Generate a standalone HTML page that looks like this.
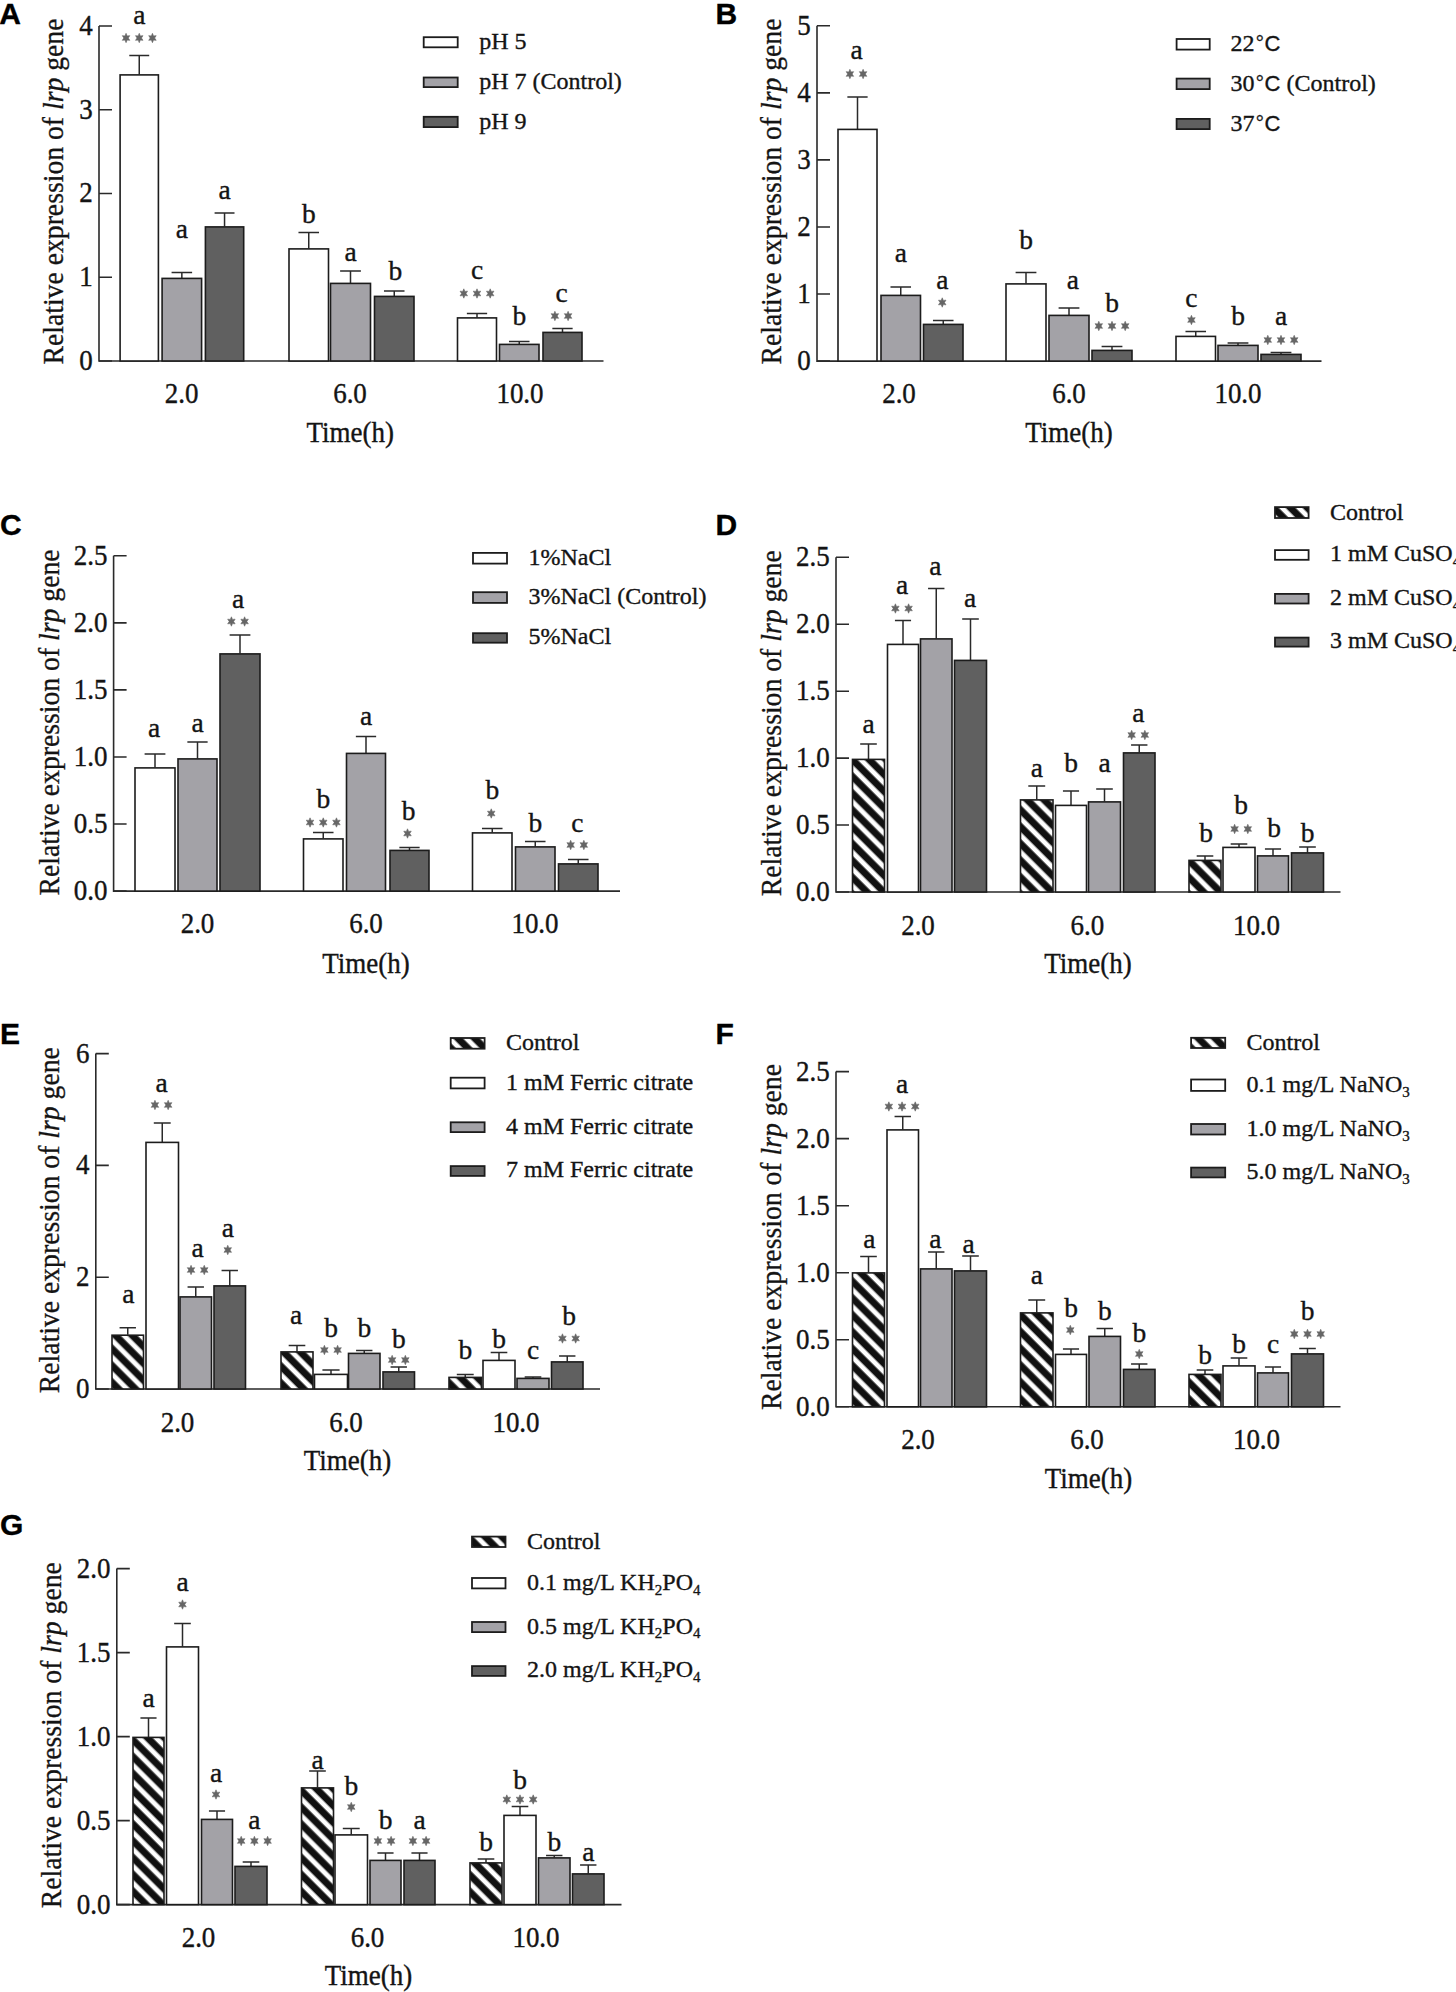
<!DOCTYPE html>
<html><head><meta charset="utf-8"><style>html,body{margin:0;padding:0;background:#fff;width:1456px;height:1992px;overflow:hidden}svg{display:block}</style></head>
<body><svg width="1456" height="1992" viewBox="0 0 1456 1992"><defs><pattern id="hatch" patternUnits="userSpaceOnUse" width="11.9" height="11.9" patternTransform="rotate(45)"><rect width="11.9" height="11.9" fill="#fff"/><rect y="2.3" width="11.9" height="7.0" fill="#111"/></pattern></defs><rect width="1456" height="1992" fill="#fff"/>
<text transform="translate(-0.75,23.90) scale(1,1.0)" font-family="Liberation Sans" font-size="30" font-weight="bold" text-anchor="start" fill="#000" stroke="#000" stroke-width="0.35" >A</text>
<path d="M99,26V361H603.5" stroke="#2a2a2a" stroke-width="1.6" fill="none"/>
<text transform="translate(92.80,369.90) scale(1,1.1)" font-family="Liberation Serif" font-size="27.0" font-weight="normal" text-anchor="end" fill="#141414" stroke="#141414" stroke-width="0.35" >0</text>
<text transform="translate(92.80,286.15) scale(1,1.1)" font-family="Liberation Serif" font-size="27.0" font-weight="normal" text-anchor="end" fill="#141414" stroke="#141414" stroke-width="0.35" >1</text>
<text transform="translate(92.80,202.40) scale(1,1.1)" font-family="Liberation Serif" font-size="27.0" font-weight="normal" text-anchor="end" fill="#141414" stroke="#141414" stroke-width="0.35" >2</text>
<text transform="translate(92.80,118.65) scale(1,1.1)" font-family="Liberation Serif" font-size="27.0" font-weight="normal" text-anchor="end" fill="#141414" stroke="#141414" stroke-width="0.35" >3</text>
<text transform="translate(92.80,34.90) scale(1,1.1)" font-family="Liberation Serif" font-size="27.0" font-weight="normal" text-anchor="end" fill="#141414" stroke="#141414" stroke-width="0.35" >4</text>
<path d="M99,361.00H112M99,277.25H112M99,193.50H112M99,109.75H112M99,26.00H112" stroke="#2a2a2a" stroke-width="1.6" fill="none"/>
<path d="M139.25,74.5V55.5M129.29,55.5H149.21" stroke="#2a2a2a" stroke-width="1.5" fill="none"/>
<rect x="120.10" y="74.90" width="38.30" height="286.10" fill="#ffffff" stroke="#1c1c1c" stroke-width="1.6"/>
<text transform="translate(139.25,24.00) scale(1,1.0)" font-family="Liberation Serif" font-size="27.5" font-weight="normal" text-anchor="middle" fill="#141414" stroke="#141414" stroke-width="0.35" >a</text>
<path d="M126.05,33.30L127.15,35.92L129.79,35.65L128.26,38.00L129.79,40.35L127.15,40.08L126.05,42.70L124.95,40.08L122.31,40.35L123.84,38.00L122.31,35.65L124.95,35.92ZM139.25,33.30L140.35,35.92L142.99,35.65L141.46,38.00L142.99,40.35L140.35,40.08L139.25,42.70L138.15,40.08L135.51,40.35L137.04,38.00L135.51,35.65L138.15,35.92ZM152.45,33.30L153.55,35.92L156.19,35.65L154.66,38.00L156.19,40.35L153.55,40.08L152.45,42.70L151.35,40.08L148.71,40.35L150.24,38.00L148.71,35.65L151.35,35.92Z" fill="#666666" stroke="#666666" stroke-width="0.6" stroke-linejoin="round"/>
<path d="M181.85,278V272.5M171.58,272.5H192.12" stroke="#2a2a2a" stroke-width="1.5" fill="none"/>
<rect x="162.10" y="278.40" width="39.50" height="82.60" fill="#a3a2a7" stroke="#1c1c1c" stroke-width="1.6"/>
<text transform="translate(181.85,238.00) scale(1,1.0)" font-family="Liberation Serif" font-size="27.5" font-weight="normal" text-anchor="middle" fill="#141414" stroke="#141414" stroke-width="0.35" >a</text>
<path d="M224.55,226.5V213M214.59,213H234.51" stroke="#2a2a2a" stroke-width="1.5" fill="none"/>
<rect x="205.40" y="226.90" width="38.30" height="134.10" fill="#606060" stroke="#1c1c1c" stroke-width="1.6"/>
<text transform="translate(224.55,199.00) scale(1,1.0)" font-family="Liberation Serif" font-size="27.5" font-weight="normal" text-anchor="middle" fill="#141414" stroke="#141414" stroke-width="0.35" >a</text>
<path d="M308.75,248.5V232.5M298.48,232.5H319.02" stroke="#2a2a2a" stroke-width="1.5" fill="none"/>
<rect x="289.00" y="248.90" width="39.50" height="112.10" fill="#ffffff" stroke="#1c1c1c" stroke-width="1.6"/>
<text transform="translate(308.75,222.50) scale(1,1.0)" font-family="Liberation Serif" font-size="27.5" font-weight="normal" text-anchor="middle" fill="#141414" stroke="#141414" stroke-width="0.35" >b</text>
<path d="M350.50,283V271M340.10,271H360.90" stroke="#2a2a2a" stroke-width="1.5" fill="none"/>
<rect x="330.50" y="283.40" width="40.00" height="77.60" fill="#a3a2a7" stroke="#1c1c1c" stroke-width="1.6"/>
<text transform="translate(350.50,261.00) scale(1,1.0)" font-family="Liberation Serif" font-size="27.5" font-weight="normal" text-anchor="middle" fill="#141414" stroke="#141414" stroke-width="0.35" >a</text>
<path d="M394.25,296V291M383.98,291H404.52" stroke="#2a2a2a" stroke-width="1.5" fill="none"/>
<rect x="374.50" y="296.40" width="39.50" height="64.60" fill="#606060" stroke="#1c1c1c" stroke-width="1.6"/>
<text transform="translate(395.45,280.00) scale(1,1.0)" font-family="Liberation Serif" font-size="27.5" font-weight="normal" text-anchor="middle" fill="#141414" stroke="#141414" stroke-width="0.35" >b</text>
<path d="M477.00,317.5V313.5M466.86,313.5H487.14" stroke="#2a2a2a" stroke-width="1.5" fill="none"/>
<rect x="457.50" y="317.90" width="39.00" height="43.10" fill="#ffffff" stroke="#1c1c1c" stroke-width="1.6"/>
<text transform="translate(477.00,279.00) scale(1,1.0)" font-family="Liberation Serif" font-size="27.5" font-weight="normal" text-anchor="middle" fill="#141414" stroke="#141414" stroke-width="0.35" >c</text>
<path d="M463.80,288.80L464.90,291.42L467.54,291.15L466.01,293.50L467.54,295.85L464.90,295.58L463.80,298.20L462.70,295.58L460.06,295.85L461.59,293.50L460.06,291.15L462.70,291.42ZM477.00,288.80L478.10,291.42L480.74,291.15L479.21,293.50L480.74,295.85L478.10,295.58L477.00,298.20L475.90,295.58L473.26,295.85L474.79,293.50L473.26,291.15L475.90,291.42ZM490.20,288.80L491.30,291.42L493.94,291.15L492.41,293.50L493.94,295.85L491.30,295.58L490.20,298.20L489.10,295.58L486.46,295.85L487.99,293.50L486.46,291.15L489.10,291.42Z" fill="#666666" stroke="#666666" stroke-width="0.6" stroke-linejoin="round"/>
<path d="M519.25,344V341.5M508.98,341.5H529.52" stroke="#2a2a2a" stroke-width="1.5" fill="none"/>
<rect x="499.50" y="344.40" width="39.50" height="16.60" fill="#a3a2a7" stroke="#1c1c1c" stroke-width="1.6"/>
<text transform="translate(519.25,325.00) scale(1,1.0)" font-family="Liberation Serif" font-size="27.5" font-weight="normal" text-anchor="middle" fill="#141414" stroke="#141414" stroke-width="0.35" >b</text>
<path d="M562.50,332V328.5M552.36,328.5H572.64" stroke="#2a2a2a" stroke-width="1.5" fill="none"/>
<rect x="543.00" y="332.40" width="39.00" height="28.60" fill="#606060" stroke="#1c1c1c" stroke-width="1.6"/>
<text transform="translate(561.50,301.50) scale(1,1.0)" font-family="Liberation Serif" font-size="27.5" font-weight="normal" text-anchor="middle" fill="#141414" stroke="#141414" stroke-width="0.35" >c</text>
<path d="M554.90,311.30L556.00,313.92L558.64,313.65L557.11,316.00L558.64,318.35L556.00,318.08L554.90,320.70L553.80,318.08L551.16,318.35L552.69,316.00L551.16,313.65L553.80,313.92ZM568.10,311.30L569.20,313.92L571.84,313.65L570.31,316.00L571.84,318.35L569.20,318.08L568.10,320.70L567.00,318.08L564.36,318.35L565.89,316.00L564.36,313.65L567.00,313.92Z" fill="#666666" stroke="#666666" stroke-width="0.6" stroke-linejoin="round"/>
<text transform="translate(181.60,402.90) scale(1,1.1)" font-family="Liberation Serif" font-size="27.0" font-weight="normal" text-anchor="middle" fill="#141414" stroke="#141414" stroke-width="0.35" >2.0</text>
<text transform="translate(350.00,402.90) scale(1,1.1)" font-family="Liberation Serif" font-size="27.0" font-weight="normal" text-anchor="middle" fill="#141414" stroke="#141414" stroke-width="0.35" >6.0</text>
<text transform="translate(520.00,402.90) scale(1,1.1)" font-family="Liberation Serif" font-size="27.0" font-weight="normal" text-anchor="middle" fill="#141414" stroke="#141414" stroke-width="0.35" >10.0</text>
<text transform="translate(350.20,441.60) scale(1,1.1)" font-family="Liberation Serif" font-size="27.0" font-weight="normal" text-anchor="middle" fill="#141414" stroke="#141414" stroke-width="0.35" >Time(h)</text>
<text transform="translate(63,191.5) rotate(-90) scale(1,1.06)" font-family="Liberation Serif" font-size="27.7" text-anchor="middle" fill="#141414" stroke="#141414" stroke-width="0.3">Relative expression of <tspan font-style="italic">lrp</tspan> gene</text>
<rect x="423.7" y="37.199999999999996" width="34.000000000000014" height="10.100000000000005" fill="#ffffff" stroke="#1c1c1c" stroke-width="1.8"/>
<text transform="translate(479.20,48.80) scale(1,1.0)" font-family="Liberation Serif" font-size="24.0" font-weight="normal" text-anchor="start" fill="#141414" stroke="#141414" stroke-width="0.35" >pH 5</text>
<rect x="423.7" y="77.5" width="34.000000000000014" height="9.600000000000005" fill="#a3a2a7" stroke="#1c1c1c" stroke-width="1.8"/>
<text transform="translate(479.20,88.60) scale(1,1.0)" font-family="Liberation Serif" font-size="24.0" font-weight="normal" text-anchor="start" fill="#141414" stroke="#141414" stroke-width="0.35" >pH 7 (Control)</text>
<rect x="423.7" y="116.80000000000001" width="34.000000000000014" height="10.299999999999994" fill="#606060" stroke="#1c1c1c" stroke-width="1.8"/>
<text transform="translate(479.20,128.60) scale(1,1.0)" font-family="Liberation Serif" font-size="24.0" font-weight="normal" text-anchor="start" fill="#141414" stroke="#141414" stroke-width="0.35" >pH 9</text>
<text transform="translate(715.50,23.90) scale(1,1.0)" font-family="Liberation Sans" font-size="30" font-weight="bold" text-anchor="start" fill="#000" stroke="#000" stroke-width="0.35" >B</text>
<path d="M817,25.8V361.1H1321.5" stroke="#2a2a2a" stroke-width="1.6" fill="none"/>
<text transform="translate(810.80,370.00) scale(1,1.1)" font-family="Liberation Serif" font-size="27.0" font-weight="normal" text-anchor="end" fill="#141414" stroke="#141414" stroke-width="0.35" >0</text>
<text transform="translate(810.80,302.94) scale(1,1.1)" font-family="Liberation Serif" font-size="27.0" font-weight="normal" text-anchor="end" fill="#141414" stroke="#141414" stroke-width="0.35" >1</text>
<text transform="translate(810.80,235.88) scale(1,1.1)" font-family="Liberation Serif" font-size="27.0" font-weight="normal" text-anchor="end" fill="#141414" stroke="#141414" stroke-width="0.35" >2</text>
<text transform="translate(810.80,168.82) scale(1,1.1)" font-family="Liberation Serif" font-size="27.0" font-weight="normal" text-anchor="end" fill="#141414" stroke="#141414" stroke-width="0.35" >3</text>
<text transform="translate(810.80,101.76) scale(1,1.1)" font-family="Liberation Serif" font-size="27.0" font-weight="normal" text-anchor="end" fill="#141414" stroke="#141414" stroke-width="0.35" >4</text>
<text transform="translate(810.80,34.70) scale(1,1.1)" font-family="Liberation Serif" font-size="27.0" font-weight="normal" text-anchor="end" fill="#141414" stroke="#141414" stroke-width="0.35" >5</text>
<path d="M817,361.10H830M817,294.04H830M817,226.98H830M817,159.92H830M817,92.86H830M817,25.80H830" stroke="#2a2a2a" stroke-width="1.6" fill="none"/>
<path d="M857.50,129V97M847.36,97H867.64" stroke="#2a2a2a" stroke-width="1.5" fill="none"/>
<rect x="838.00" y="129.40" width="39.00" height="231.70" fill="#ffffff" stroke="#1c1c1c" stroke-width="1.6"/>
<text transform="translate(856.50,59.00) scale(1,1.0)" font-family="Liberation Serif" font-size="27.5" font-weight="normal" text-anchor="middle" fill="#141414" stroke="#141414" stroke-width="0.35" >a</text>
<path d="M849.90,69.30L851.00,71.92L853.64,71.65L852.11,74.00L853.64,76.35L851.00,76.08L849.90,78.70L848.80,76.08L846.16,76.35L847.69,74.00L846.16,71.65L848.80,71.92ZM863.10,69.30L864.20,71.92L866.84,71.65L865.31,74.00L866.84,76.35L864.20,76.08L863.10,78.70L862.00,76.08L859.36,76.35L860.89,74.00L859.36,71.65L862.00,71.92Z" fill="#666666" stroke="#666666" stroke-width="0.6" stroke-linejoin="round"/>
<path d="M900.75,295V287M890.48,287H911.02" stroke="#2a2a2a" stroke-width="1.5" fill="none"/>
<rect x="881.00" y="295.40" width="39.50" height="65.70" fill="#a3a2a7" stroke="#1c1c1c" stroke-width="1.6"/>
<text transform="translate(900.75,261.50) scale(1,1.0)" font-family="Liberation Serif" font-size="27.5" font-weight="normal" text-anchor="middle" fill="#141414" stroke="#141414" stroke-width="0.35" >a</text>
<path d="M943.25,324V320.5M932.98,320.5H953.52" stroke="#2a2a2a" stroke-width="1.5" fill="none"/>
<rect x="923.50" y="324.40" width="39.50" height="36.70" fill="#606060" stroke="#1c1c1c" stroke-width="1.6"/>
<text transform="translate(942.25,289.00) scale(1,1.0)" font-family="Liberation Serif" font-size="27.5" font-weight="normal" text-anchor="middle" fill="#141414" stroke="#141414" stroke-width="0.35" >a</text>
<path d="M942.25,297.80L943.35,300.42L945.99,300.15L944.46,302.50L945.99,304.85L943.35,304.58L942.25,307.20L941.15,304.58L938.51,304.85L940.04,302.50L938.51,300.15L941.15,300.42Z" fill="#666666" stroke="#666666" stroke-width="0.6" stroke-linejoin="round"/>
<path d="M1026.00,283.5V272.5M1015.60,272.5H1036.40" stroke="#2a2a2a" stroke-width="1.5" fill="none"/>
<rect x="1006.00" y="283.90" width="40.00" height="77.20" fill="#ffffff" stroke="#1c1c1c" stroke-width="1.6"/>
<text transform="translate(1026.00,249.00) scale(1,1.0)" font-family="Liberation Serif" font-size="27.5" font-weight="normal" text-anchor="middle" fill="#141414" stroke="#141414" stroke-width="0.35" >b</text>
<path d="M1069.00,315V308M1058.60,308H1079.40" stroke="#2a2a2a" stroke-width="1.5" fill="none"/>
<rect x="1049.00" y="315.40" width="40.00" height="45.70" fill="#a3a2a7" stroke="#1c1c1c" stroke-width="1.6"/>
<text transform="translate(1072.90,289.00) scale(1,1.0)" font-family="Liberation Serif" font-size="27.5" font-weight="normal" text-anchor="middle" fill="#141414" stroke="#141414" stroke-width="0.35" >a</text>
<path d="M1112.00,350V346.5M1101.60,346.5H1122.40" stroke="#2a2a2a" stroke-width="1.5" fill="none"/>
<rect x="1092.00" y="350.40" width="40.00" height="10.70" fill="#606060" stroke="#1c1c1c" stroke-width="1.6"/>
<text transform="translate(1112.00,311.50) scale(1,1.0)" font-family="Liberation Serif" font-size="27.5" font-weight="normal" text-anchor="middle" fill="#141414" stroke="#141414" stroke-width="0.35" >b</text>
<path d="M1098.80,321.30L1099.90,323.92L1102.54,323.65L1101.01,326.00L1102.54,328.35L1099.90,328.08L1098.80,330.70L1097.70,328.08L1095.06,328.35L1096.59,326.00L1095.06,323.65L1097.70,323.92ZM1112.00,321.30L1113.10,323.92L1115.74,323.65L1114.21,326.00L1115.74,328.35L1113.10,328.08L1112.00,330.70L1110.90,328.08L1108.26,328.35L1109.79,326.00L1108.26,323.65L1110.90,323.92ZM1125.20,321.30L1126.30,323.92L1128.94,323.65L1127.41,326.00L1128.94,328.35L1126.30,328.08L1125.20,330.70L1124.10,328.08L1121.46,328.35L1122.99,326.00L1121.46,323.65L1124.10,323.92Z" fill="#666666" stroke="#666666" stroke-width="0.6" stroke-linejoin="round"/>
<path d="M1195.75,336V331.5M1185.48,331.5H1206.02" stroke="#2a2a2a" stroke-width="1.5" fill="none"/>
<rect x="1176.00" y="336.40" width="39.50" height="24.70" fill="#ffffff" stroke="#1c1c1c" stroke-width="1.6"/>
<text transform="translate(1191.45,306.50) scale(1,1.0)" font-family="Liberation Serif" font-size="27.5" font-weight="normal" text-anchor="middle" fill="#141414" stroke="#141414" stroke-width="0.35" >c</text>
<path d="M1191.45,315.30L1192.55,317.92L1195.19,317.65L1193.66,320.00L1195.19,322.35L1192.55,322.08L1191.45,324.70L1190.35,322.08L1187.71,322.35L1189.24,320.00L1187.71,317.65L1190.35,317.92Z" fill="#666666" stroke="#666666" stroke-width="0.6" stroke-linejoin="round"/>
<path d="M1238.00,345V343M1227.60,343H1248.40" stroke="#2a2a2a" stroke-width="1.5" fill="none"/>
<rect x="1218.00" y="345.40" width="40.00" height="15.70" fill="#a3a2a7" stroke="#1c1c1c" stroke-width="1.6"/>
<text transform="translate(1238.00,325.00) scale(1,1.0)" font-family="Liberation Serif" font-size="27.5" font-weight="normal" text-anchor="middle" fill="#141414" stroke="#141414" stroke-width="0.35" >b</text>
<path d="M1281.00,354V352.5M1270.60,352.5H1291.40" stroke="#2a2a2a" stroke-width="1.5" fill="none"/>
<rect x="1261.00" y="354.40" width="40.00" height="6.70" fill="#606060" stroke="#1c1c1c" stroke-width="1.6"/>
<text transform="translate(1281.00,325.00) scale(1,1.0)" font-family="Liberation Serif" font-size="27.5" font-weight="normal" text-anchor="middle" fill="#141414" stroke="#141414" stroke-width="0.35" >a</text>
<path d="M1267.80,335.30L1268.90,337.92L1271.54,337.65L1270.01,340.00L1271.54,342.35L1268.90,342.08L1267.80,344.70L1266.70,342.08L1264.06,342.35L1265.59,340.00L1264.06,337.65L1266.70,337.92ZM1281.00,335.30L1282.10,337.92L1284.74,337.65L1283.21,340.00L1284.74,342.35L1282.10,342.08L1281.00,344.70L1279.90,342.08L1277.26,342.35L1278.79,340.00L1277.26,337.65L1279.90,337.92ZM1294.20,335.30L1295.30,337.92L1297.94,337.65L1296.41,340.00L1297.94,342.35L1295.30,342.08L1294.20,344.70L1293.10,342.08L1290.46,342.35L1291.99,340.00L1290.46,337.65L1293.10,337.92Z" fill="#666666" stroke="#666666" stroke-width="0.6" stroke-linejoin="round"/>
<text transform="translate(899.00,402.50) scale(1,1.1)" font-family="Liberation Serif" font-size="27.0" font-weight="normal" text-anchor="middle" fill="#141414" stroke="#141414" stroke-width="0.35" >2.0</text>
<text transform="translate(1069.00,402.50) scale(1,1.1)" font-family="Liberation Serif" font-size="27.0" font-weight="normal" text-anchor="middle" fill="#141414" stroke="#141414" stroke-width="0.35" >6.0</text>
<text transform="translate(1238.00,402.50) scale(1,1.1)" font-family="Liberation Serif" font-size="27.0" font-weight="normal" text-anchor="middle" fill="#141414" stroke="#141414" stroke-width="0.35" >10.0</text>
<text transform="translate(1069.00,442.00) scale(1,1.1)" font-family="Liberation Serif" font-size="27.0" font-weight="normal" text-anchor="middle" fill="#141414" stroke="#141414" stroke-width="0.35" >Time(h)</text>
<text transform="translate(780.7,191.5) rotate(-90) scale(1,1.06)" font-family="Liberation Serif" font-size="27.7" text-anchor="middle" fill="#141414" stroke="#141414" stroke-width="0.3">Relative expression of <tspan font-style="italic">lrp</tspan> gene</text>
<rect x="1176.6000000000001" y="39.0" width="33.099999999999866" height="10.599999999999998" fill="#ffffff" stroke="#1c1c1c" stroke-width="1.8"/>
<text transform="translate(1230.50,51.10) scale(1,1.0)" font-family="Liberation Serif" font-size="24.0" font-weight="normal" text-anchor="start" fill="#141414" stroke="#141414" stroke-width="0.35" >22<tspan dx="1.5" dy="-3" font-size="19">°</tspan><tspan dx="1" dy="3" font-family="Liberation Sans" font-size="22">C</tspan></text>
<rect x="1176.6000000000001" y="78.60000000000001" width="33.099999999999866" height="10.499999999999996" fill="#a3a2a7" stroke="#1c1c1c" stroke-width="1.8"/>
<text transform="translate(1230.50,90.60) scale(1,1.0)" font-family="Liberation Serif" font-size="24.0" font-weight="normal" text-anchor="start" fill="#141414" stroke="#141414" stroke-width="0.35" >30<tspan dx="1.5" dy="-3" font-size="19">°</tspan><tspan dx="1" dy="3" font-family="Liberation Sans" font-size="22">C</tspan> (Control)</text>
<rect x="1176.6000000000001" y="118.9" width="33.099999999999866" height="10.2" fill="#606060" stroke="#1c1c1c" stroke-width="1.8"/>
<text transform="translate(1230.50,130.60) scale(1,1.0)" font-family="Liberation Serif" font-size="24.0" font-weight="normal" text-anchor="start" fill="#141414" stroke="#141414" stroke-width="0.35" >37<tspan dx="1.5" dy="-3" font-size="19">°</tspan><tspan dx="1" dy="3" font-family="Liberation Sans" font-size="22">C</tspan></text>
<text transform="translate(0.00,535.00) scale(1,1.0)" font-family="Liberation Sans" font-size="30" font-weight="bold" text-anchor="start" fill="#000" stroke="#000" stroke-width="0.35" >C</text>
<path d="M113.6,555.8V891.1H620" stroke="#2a2a2a" stroke-width="1.6" fill="none"/>
<text transform="translate(107.40,900.00) scale(1,1.1)" font-family="Liberation Serif" font-size="27.0" font-weight="normal" text-anchor="end" fill="#141414" stroke="#141414" stroke-width="0.35" >0.0</text>
<text transform="translate(107.40,832.94) scale(1,1.1)" font-family="Liberation Serif" font-size="27.0" font-weight="normal" text-anchor="end" fill="#141414" stroke="#141414" stroke-width="0.35" >0.5</text>
<text transform="translate(107.40,765.88) scale(1,1.1)" font-family="Liberation Serif" font-size="27.0" font-weight="normal" text-anchor="end" fill="#141414" stroke="#141414" stroke-width="0.35" >1.0</text>
<text transform="translate(107.40,698.82) scale(1,1.1)" font-family="Liberation Serif" font-size="27.0" font-weight="normal" text-anchor="end" fill="#141414" stroke="#141414" stroke-width="0.35" >1.5</text>
<text transform="translate(107.40,631.76) scale(1,1.1)" font-family="Liberation Serif" font-size="27.0" font-weight="normal" text-anchor="end" fill="#141414" stroke="#141414" stroke-width="0.35" >2.0</text>
<text transform="translate(107.40,564.70) scale(1,1.1)" font-family="Liberation Serif" font-size="27.0" font-weight="normal" text-anchor="end" fill="#141414" stroke="#141414" stroke-width="0.35" >2.5</text>
<path d="M113.6,891.10H126.6M113.6,824.04H126.6M113.6,756.98H126.6M113.6,689.92H126.6M113.6,622.86H126.6M113.6,555.80H126.6" stroke="#2a2a2a" stroke-width="1.6" fill="none"/>
<path d="M155.00,767.5V754M144.60,754H165.40" stroke="#2a2a2a" stroke-width="1.5" fill="none"/>
<rect x="135.00" y="767.90" width="40.00" height="123.20" fill="#ffffff" stroke="#1c1c1c" stroke-width="1.6"/>
<text transform="translate(154.00,736.50) scale(1,1.0)" font-family="Liberation Serif" font-size="27.5" font-weight="normal" text-anchor="middle" fill="#141414" stroke="#141414" stroke-width="0.35" >a</text>
<path d="M197.50,758.5V742M187.36,742H207.64" stroke="#2a2a2a" stroke-width="1.5" fill="none"/>
<rect x="178.00" y="758.90" width="39.00" height="132.20" fill="#a3a2a7" stroke="#1c1c1c" stroke-width="1.6"/>
<text transform="translate(197.50,731.50) scale(1,1.0)" font-family="Liberation Serif" font-size="27.5" font-weight="normal" text-anchor="middle" fill="#141414" stroke="#141414" stroke-width="0.35" >a</text>
<path d="M240.00,653.5V635M229.60,635H250.40" stroke="#2a2a2a" stroke-width="1.5" fill="none"/>
<rect x="220.00" y="653.90" width="40.00" height="237.20" fill="#606060" stroke="#1c1c1c" stroke-width="1.6"/>
<text transform="translate(238.00,607.50) scale(1,1.0)" font-family="Liberation Serif" font-size="27.5" font-weight="normal" text-anchor="middle" fill="#141414" stroke="#141414" stroke-width="0.35" >a</text>
<path d="M231.40,616.80L232.50,619.42L235.14,619.15L233.61,621.50L235.14,623.85L232.50,623.58L231.40,626.20L230.30,623.58L227.66,623.85L229.19,621.50L227.66,619.15L230.30,619.42ZM244.60,616.80L245.70,619.42L248.34,619.15L246.81,621.50L248.34,623.85L245.70,623.58L244.60,626.20L243.50,623.58L240.86,623.85L242.39,621.50L240.86,619.15L243.50,619.42Z" fill="#666666" stroke="#666666" stroke-width="0.6" stroke-linejoin="round"/>
<path d="M323.25,838.5V832.5M312.98,832.5H333.52" stroke="#2a2a2a" stroke-width="1.5" fill="none"/>
<rect x="303.50" y="838.90" width="39.50" height="52.20" fill="#ffffff" stroke="#1c1c1c" stroke-width="1.6"/>
<text transform="translate(323.25,808.00) scale(1,1.0)" font-family="Liberation Serif" font-size="27.5" font-weight="normal" text-anchor="middle" fill="#141414" stroke="#141414" stroke-width="0.35" >b</text>
<path d="M310.05,817.80L311.15,820.42L313.79,820.15L312.26,822.50L313.79,824.85L311.15,824.58L310.05,827.20L308.95,824.58L306.31,824.85L307.84,822.50L306.31,820.15L308.95,820.42ZM323.25,817.80L324.35,820.42L326.99,820.15L325.46,822.50L326.99,824.85L324.35,824.58L323.25,827.20L322.15,824.58L319.51,824.85L321.04,822.50L319.51,820.15L322.15,820.42ZM336.45,817.80L337.55,820.42L340.19,820.15L338.66,822.50L340.19,824.85L337.55,824.58L336.45,827.20L335.35,824.58L332.71,824.85L334.24,822.50L332.71,820.15L335.35,820.42Z" fill="#666666" stroke="#666666" stroke-width="0.6" stroke-linejoin="round"/>
<path d="M366.00,753V736.5M355.86,736.5H376.14" stroke="#2a2a2a" stroke-width="1.5" fill="none"/>
<rect x="346.50" y="753.40" width="39.00" height="137.70" fill="#a3a2a7" stroke="#1c1c1c" stroke-width="1.6"/>
<text transform="translate(366.00,725.00) scale(1,1.0)" font-family="Liberation Serif" font-size="27.5" font-weight="normal" text-anchor="middle" fill="#141414" stroke="#141414" stroke-width="0.35" >a</text>
<path d="M409.50,850V847.5M399.36,847.5H419.64" stroke="#2a2a2a" stroke-width="1.5" fill="none"/>
<rect x="390.00" y="850.40" width="39.00" height="40.70" fill="#606060" stroke="#1c1c1c" stroke-width="1.6"/>
<text transform="translate(408.50,820.00) scale(1,1.0)" font-family="Liberation Serif" font-size="27.5" font-weight="normal" text-anchor="middle" fill="#141414" stroke="#141414" stroke-width="0.35" >b</text>
<path d="M407.50,828.80L408.60,831.42L411.24,831.15L409.71,833.50L411.24,835.85L408.60,835.58L407.50,838.20L406.40,835.58L403.76,835.85L405.29,833.50L403.76,831.15L406.40,831.42Z" fill="#666666" stroke="#666666" stroke-width="0.6" stroke-linejoin="round"/>
<path d="M492.25,832.5V828.5M481.98,828.5H502.52" stroke="#2a2a2a" stroke-width="1.5" fill="none"/>
<rect x="472.50" y="832.90" width="39.50" height="58.20" fill="#ffffff" stroke="#1c1c1c" stroke-width="1.6"/>
<text transform="translate(492.25,799.00) scale(1,1.0)" font-family="Liberation Serif" font-size="27.5" font-weight="normal" text-anchor="middle" fill="#141414" stroke="#141414" stroke-width="0.35" >b</text>
<path d="M491.25,808.80L492.35,811.42L494.99,811.15L493.46,813.50L494.99,815.85L492.35,815.58L491.25,818.20L490.15,815.58L487.51,815.85L489.04,813.50L487.51,811.15L490.15,811.42Z" fill="#666666" stroke="#666666" stroke-width="0.6" stroke-linejoin="round"/>
<path d="M535.25,846.5V841.5M524.98,841.5H545.52" stroke="#2a2a2a" stroke-width="1.5" fill="none"/>
<rect x="515.50" y="846.90" width="39.50" height="44.20" fill="#a3a2a7" stroke="#1c1c1c" stroke-width="1.6"/>
<text transform="translate(535.25,831.50) scale(1,1.0)" font-family="Liberation Serif" font-size="27.5" font-weight="normal" text-anchor="middle" fill="#141414" stroke="#141414" stroke-width="0.35" >b</text>
<path d="M578.25,863.5V859.5M567.98,859.5H588.52" stroke="#2a2a2a" stroke-width="1.5" fill="none"/>
<rect x="558.50" y="863.90" width="39.50" height="27.20" fill="#606060" stroke="#1c1c1c" stroke-width="1.6"/>
<text transform="translate(577.25,831.50) scale(1,1.0)" font-family="Liberation Serif" font-size="27.5" font-weight="normal" text-anchor="middle" fill="#141414" stroke="#141414" stroke-width="0.35" >c</text>
<path d="M570.65,840.30L571.75,842.92L574.39,842.65L572.86,845.00L574.39,847.35L571.75,847.08L570.65,849.70L569.55,847.08L566.91,847.35L568.44,845.00L566.91,842.65L569.55,842.92ZM583.85,840.30L584.95,842.92L587.59,842.65L586.06,845.00L587.59,847.35L584.95,847.08L583.85,849.70L582.75,847.08L580.11,847.35L581.64,845.00L580.11,842.65L582.75,842.92Z" fill="#666666" stroke="#666666" stroke-width="0.6" stroke-linejoin="round"/>
<text transform="translate(197.50,932.50) scale(1,1.1)" font-family="Liberation Serif" font-size="27.0" font-weight="normal" text-anchor="middle" fill="#141414" stroke="#141414" stroke-width="0.35" >2.0</text>
<text transform="translate(366.00,932.50) scale(1,1.1)" font-family="Liberation Serif" font-size="27.0" font-weight="normal" text-anchor="middle" fill="#141414" stroke="#141414" stroke-width="0.35" >6.0</text>
<text transform="translate(535.00,932.50) scale(1,1.1)" font-family="Liberation Serif" font-size="27.0" font-weight="normal" text-anchor="middle" fill="#141414" stroke="#141414" stroke-width="0.35" >10.0</text>
<text transform="translate(366.00,972.50) scale(1,1.1)" font-family="Liberation Serif" font-size="27.0" font-weight="normal" text-anchor="middle" fill="#141414" stroke="#141414" stroke-width="0.35" >Time(h)</text>
<text transform="translate(58.9,722.4) rotate(-90) scale(1,1.06)" font-family="Liberation Serif" font-size="27.7" text-anchor="middle" fill="#141414" stroke="#141414" stroke-width="0.3">Relative expression of <tspan font-style="italic">lrp</tspan> gene</text>
<rect x="473.0" y="552.9" width="33.99999999999996" height="10.7" fill="#ffffff" stroke="#1c1c1c" stroke-width="1.8"/>
<text transform="translate(528.50,565.10) scale(1,1.0)" font-family="Liberation Serif" font-size="24.0" font-weight="normal" text-anchor="start" fill="#141414" stroke="#141414" stroke-width="0.35" >1%NaCl</text>
<rect x="473.0" y="592.1999999999999" width="33.99999999999996" height="10.7" fill="#a3a2a7" stroke="#1c1c1c" stroke-width="1.8"/>
<text transform="translate(528.50,604.40) scale(1,1.0)" font-family="Liberation Serif" font-size="24.0" font-weight="normal" text-anchor="start" fill="#141414" stroke="#141414" stroke-width="0.35" >3%NaCl (Control)</text>
<rect x="473.0" y="633.1999999999999" width="33.99999999999996" height="9.500000000000068" fill="#606060" stroke="#1c1c1c" stroke-width="1.8"/>
<text transform="translate(528.50,644.20) scale(1,1.0)" font-family="Liberation Serif" font-size="24.0" font-weight="normal" text-anchor="start" fill="#141414" stroke="#141414" stroke-width="0.35" >5%NaCl</text>
<text transform="translate(715.50,534.80) scale(1,1.0)" font-family="Liberation Sans" font-size="30" font-weight="bold" text-anchor="start" fill="#000" stroke="#000" stroke-width="0.35" >D</text>
<path d="M836,557.3V892H1340.5" stroke="#2a2a2a" stroke-width="1.6" fill="none"/>
<text transform="translate(829.80,900.90) scale(1,1.1)" font-family="Liberation Serif" font-size="27.0" font-weight="normal" text-anchor="end" fill="#141414" stroke="#141414" stroke-width="0.35" >0.0</text>
<text transform="translate(829.80,833.96) scale(1,1.1)" font-family="Liberation Serif" font-size="27.0" font-weight="normal" text-anchor="end" fill="#141414" stroke="#141414" stroke-width="0.35" >0.5</text>
<text transform="translate(829.80,767.02) scale(1,1.1)" font-family="Liberation Serif" font-size="27.0" font-weight="normal" text-anchor="end" fill="#141414" stroke="#141414" stroke-width="0.35" >1.0</text>
<text transform="translate(829.80,700.08) scale(1,1.1)" font-family="Liberation Serif" font-size="27.0" font-weight="normal" text-anchor="end" fill="#141414" stroke="#141414" stroke-width="0.35" >1.5</text>
<text transform="translate(829.80,633.14) scale(1,1.1)" font-family="Liberation Serif" font-size="27.0" font-weight="normal" text-anchor="end" fill="#141414" stroke="#141414" stroke-width="0.35" >2.0</text>
<text transform="translate(829.80,566.20) scale(1,1.1)" font-family="Liberation Serif" font-size="27.0" font-weight="normal" text-anchor="end" fill="#141414" stroke="#141414" stroke-width="0.35" >2.5</text>
<path d="M836,892.00H849M836,825.06H849M836,758.12H849M836,691.18H849M836,624.24H849M836,557.30H849" stroke="#2a2a2a" stroke-width="1.6" fill="none"/>
<path d="M868.50,759V744M860.18,744H876.82" stroke="#2a2a2a" stroke-width="1.5" fill="none"/>
<rect x="852.50" y="759.40" width="32.00" height="132.60" fill="url(#hatch)" stroke="#1c1c1c" stroke-width="1.6"/>
<text transform="translate(868.50,732.50) scale(1,1.0)" font-family="Liberation Serif" font-size="27.5" font-weight="normal" text-anchor="middle" fill="#141414" stroke="#141414" stroke-width="0.35" >a</text>
<path d="M903.00,644V620.5M894.94,620.5H911.06" stroke="#2a2a2a" stroke-width="1.5" fill="none"/>
<rect x="887.50" y="644.40" width="31.00" height="247.60" fill="#ffffff" stroke="#1c1c1c" stroke-width="1.6"/>
<text transform="translate(902.00,594.00) scale(1,1.0)" font-family="Liberation Serif" font-size="27.5" font-weight="normal" text-anchor="middle" fill="#141414" stroke="#141414" stroke-width="0.35" >a</text>
<path d="M895.40,603.80L896.50,606.42L899.14,606.15L897.61,608.50L899.14,610.85L896.50,610.58L895.40,613.20L894.30,610.58L891.66,610.85L893.19,608.50L891.66,606.15L894.30,606.42ZM908.60,603.80L909.70,606.42L912.34,606.15L910.81,608.50L912.34,610.85L909.70,610.58L908.60,613.20L907.50,610.58L904.86,610.85L906.39,608.50L904.86,606.15L907.50,606.42Z" fill="#666666" stroke="#666666" stroke-width="0.6" stroke-linejoin="round"/>
<path d="M936.25,638.5V588.5M928.06,588.5H944.44" stroke="#2a2a2a" stroke-width="1.5" fill="none"/>
<rect x="920.50" y="638.90" width="31.50" height="253.10" fill="#a3a2a7" stroke="#1c1c1c" stroke-width="1.6"/>
<text transform="translate(935.25,575.00) scale(1,1.0)" font-family="Liberation Serif" font-size="27.5" font-weight="normal" text-anchor="middle" fill="#141414" stroke="#141414" stroke-width="0.35" >a</text>
<path d="M970.50,660V619M962.18,619H978.82" stroke="#2a2a2a" stroke-width="1.5" fill="none"/>
<rect x="954.50" y="660.40" width="32.00" height="231.60" fill="#606060" stroke="#1c1c1c" stroke-width="1.6"/>
<text transform="translate(970.00,606.50) scale(1,1.0)" font-family="Liberation Serif" font-size="27.5" font-weight="normal" text-anchor="middle" fill="#141414" stroke="#141414" stroke-width="0.35" >a</text>
<path d="M1036.75,799.5V786M1028.30,786H1045.20" stroke="#2a2a2a" stroke-width="1.5" fill="none"/>
<rect x="1020.50" y="799.90" width="32.50" height="92.10" fill="url(#hatch)" stroke="#1c1c1c" stroke-width="1.6"/>
<text transform="translate(1036.75,776.50) scale(1,1.0)" font-family="Liberation Serif" font-size="27.5" font-weight="normal" text-anchor="middle" fill="#141414" stroke="#141414" stroke-width="0.35" >a</text>
<path d="M1071.00,805V791M1062.94,791H1079.06" stroke="#2a2a2a" stroke-width="1.5" fill="none"/>
<rect x="1055.50" y="805.40" width="31.00" height="86.60" fill="#ffffff" stroke="#1c1c1c" stroke-width="1.6"/>
<text transform="translate(1071.00,771.50) scale(1,1.0)" font-family="Liberation Serif" font-size="27.5" font-weight="normal" text-anchor="middle" fill="#141414" stroke="#141414" stroke-width="0.35" >b</text>
<path d="M1104.50,801.5V789M1096.18,789H1112.82" stroke="#2a2a2a" stroke-width="1.5" fill="none"/>
<rect x="1088.50" y="801.90" width="32.00" height="90.10" fill="#a3a2a7" stroke="#1c1c1c" stroke-width="1.6"/>
<text transform="translate(1104.50,771.50) scale(1,1.0)" font-family="Liberation Serif" font-size="27.5" font-weight="normal" text-anchor="middle" fill="#141414" stroke="#141414" stroke-width="0.35" >a</text>
<path d="M1139.25,752.5V745M1131.06,745H1147.44" stroke="#2a2a2a" stroke-width="1.5" fill="none"/>
<rect x="1123.50" y="752.90" width="31.50" height="139.10" fill="#606060" stroke="#1c1c1c" stroke-width="1.6"/>
<text transform="translate(1138.25,721.50) scale(1,1.0)" font-family="Liberation Serif" font-size="27.5" font-weight="normal" text-anchor="middle" fill="#141414" stroke="#141414" stroke-width="0.35" >a</text>
<path d="M1131.65,730.30L1132.75,732.92L1135.39,732.65L1133.86,735.00L1135.39,737.35L1132.75,737.08L1131.65,739.70L1130.55,737.08L1127.91,737.35L1129.44,735.00L1127.91,732.65L1130.55,732.92ZM1144.85,730.30L1145.95,732.92L1148.59,732.65L1147.06,735.00L1148.59,737.35L1145.95,737.08L1144.85,739.70L1143.75,737.08L1141.11,737.35L1142.64,735.00L1141.11,732.65L1143.75,732.92Z" fill="#666666" stroke="#666666" stroke-width="0.6" stroke-linejoin="round"/>
<path d="M1205.00,860V856M1196.68,856H1213.32" stroke="#2a2a2a" stroke-width="1.5" fill="none"/>
<rect x="1189.00" y="860.40" width="32.00" height="31.60" fill="url(#hatch)" stroke="#1c1c1c" stroke-width="1.6"/>
<text transform="translate(1206.00,841.50) scale(1,1.0)" font-family="Liberation Serif" font-size="27.5" font-weight="normal" text-anchor="middle" fill="#141414" stroke="#141414" stroke-width="0.35" >b</text>
<path d="M1239.00,847V844M1230.68,844H1247.32" stroke="#2a2a2a" stroke-width="1.5" fill="none"/>
<rect x="1223.00" y="847.40" width="32.00" height="44.60" fill="#ffffff" stroke="#1c1c1c" stroke-width="1.6"/>
<text transform="translate(1241.20,814.00) scale(1,1.0)" font-family="Liberation Serif" font-size="27.5" font-weight="normal" text-anchor="middle" fill="#141414" stroke="#141414" stroke-width="0.35" >b</text>
<path d="M1234.60,824.30L1235.70,826.92L1238.34,826.65L1236.81,829.00L1238.34,831.35L1235.70,831.08L1234.60,833.70L1233.50,831.08L1230.86,831.35L1232.39,829.00L1230.86,826.65L1233.50,826.92ZM1247.80,824.30L1248.90,826.92L1251.54,826.65L1250.01,829.00L1251.54,831.35L1248.90,831.08L1247.80,833.70L1246.70,831.08L1244.06,831.35L1245.59,829.00L1244.06,826.65L1246.70,826.92Z" fill="#666666" stroke="#666666" stroke-width="0.6" stroke-linejoin="round"/>
<path d="M1273.00,855.5V849M1264.94,849H1281.06" stroke="#2a2a2a" stroke-width="1.5" fill="none"/>
<rect x="1257.50" y="855.90" width="31.00" height="36.10" fill="#a3a2a7" stroke="#1c1c1c" stroke-width="1.6"/>
<text transform="translate(1274.00,836.50) scale(1,1.0)" font-family="Liberation Serif" font-size="27.5" font-weight="normal" text-anchor="middle" fill="#141414" stroke="#141414" stroke-width="0.35" >b</text>
<path d="M1307.50,852.5V847M1299.18,847H1315.82" stroke="#2a2a2a" stroke-width="1.5" fill="none"/>
<rect x="1291.50" y="852.90" width="32.00" height="39.10" fill="#606060" stroke="#1c1c1c" stroke-width="1.6"/>
<text transform="translate(1307.50,841.50) scale(1,1.0)" font-family="Liberation Serif" font-size="27.5" font-weight="normal" text-anchor="middle" fill="#141414" stroke="#141414" stroke-width="0.35" >b</text>
<text transform="translate(918.00,935.00) scale(1,1.1)" font-family="Liberation Serif" font-size="27.0" font-weight="normal" text-anchor="middle" fill="#141414" stroke="#141414" stroke-width="0.35" >2.0</text>
<text transform="translate(1087.40,935.00) scale(1,1.1)" font-family="Liberation Serif" font-size="27.0" font-weight="normal" text-anchor="middle" fill="#141414" stroke="#141414" stroke-width="0.35" >6.0</text>
<text transform="translate(1256.50,935.00) scale(1,1.1)" font-family="Liberation Serif" font-size="27.0" font-weight="normal" text-anchor="middle" fill="#141414" stroke="#141414" stroke-width="0.35" >10.0</text>
<text transform="translate(1087.90,973.40) scale(1,1.1)" font-family="Liberation Serif" font-size="27.0" font-weight="normal" text-anchor="middle" fill="#141414" stroke="#141414" stroke-width="0.35" >Time(h)</text>
<text transform="translate(780.7,723.3) rotate(-90) scale(1,1.06)" font-family="Liberation Serif" font-size="27.7" text-anchor="middle" fill="#141414" stroke="#141414" stroke-width="0.3">Relative expression of <tspan font-style="italic">lrp</tspan> gene</text>
<rect x="1275.0" y="507.09999999999997" width="33.600000000000094" height="10.899999999999988" fill="url(#hatch)" stroke="#1c1c1c" stroke-width="1.8"/>
<text transform="translate(1330.00,519.50) scale(1,1.0)" font-family="Liberation Serif" font-size="24.0" font-weight="normal" text-anchor="start" fill="#141414" stroke="#141414" stroke-width="0.35" >Control</text>
<rect x="1275.0" y="550.1" width="33.600000000000094" height="9.7" fill="#ffffff" stroke="#1c1c1c" stroke-width="1.8"/>
<text transform="translate(1330.00,561.30) scale(1,1.0)" font-family="Liberation Serif" font-size="24.0" font-weight="normal" text-anchor="start" fill="#141414" stroke="#141414" stroke-width="0.35" >1 mM CuSO<tspan dy="4.8" font-size="15">4</tspan></text>
<rect x="1275.0" y="593.9" width="33.600000000000094" height="9.599999999999977" fill="#a3a2a7" stroke="#1c1c1c" stroke-width="1.8"/>
<text transform="translate(1330.00,605.00) scale(1,1.0)" font-family="Liberation Serif" font-size="24.0" font-weight="normal" text-anchor="start" fill="#141414" stroke="#141414" stroke-width="0.35" >2 mM CuSO<tspan dy="4.8" font-size="15">4</tspan></text>
<rect x="1275.0" y="637.6" width="33.600000000000094" height="8.999999999999954" fill="#606060" stroke="#1c1c1c" stroke-width="1.8"/>
<text transform="translate(1330.00,648.10) scale(1,1.0)" font-family="Liberation Serif" font-size="24.0" font-weight="normal" text-anchor="start" fill="#141414" stroke="#141414" stroke-width="0.35" >3 mM CuSO<tspan dy="4.8" font-size="15">4</tspan></text>
<text transform="translate(0.00,1043.80) scale(1,1.0)" font-family="Liberation Sans" font-size="30" font-weight="bold" text-anchor="start" fill="#000" stroke="#000" stroke-width="0.35" >E</text>
<path d="M95.8,1053.6V1389H600" stroke="#2a2a2a" stroke-width="1.6" fill="none"/>
<text transform="translate(89.60,1397.90) scale(1,1.1)" font-family="Liberation Serif" font-size="27.0" font-weight="normal" text-anchor="end" fill="#141414" stroke="#141414" stroke-width="0.35" >0</text>
<text transform="translate(89.60,1286.10) scale(1,1.1)" font-family="Liberation Serif" font-size="27.0" font-weight="normal" text-anchor="end" fill="#141414" stroke="#141414" stroke-width="0.35" >2</text>
<text transform="translate(89.60,1174.30) scale(1,1.1)" font-family="Liberation Serif" font-size="27.0" font-weight="normal" text-anchor="end" fill="#141414" stroke="#141414" stroke-width="0.35" >4</text>
<text transform="translate(89.60,1062.50) scale(1,1.1)" font-family="Liberation Serif" font-size="27.0" font-weight="normal" text-anchor="end" fill="#141414" stroke="#141414" stroke-width="0.35" >6</text>
<path d="M95.8,1389.00H108.8M95.8,1277.20H108.8M95.8,1165.40H108.8M95.8,1053.60H108.8" stroke="#2a2a2a" stroke-width="1.6" fill="none"/>
<path d="M127.75,1334.8V1327.8M119.56,1327.8H135.94" stroke="#2a2a2a" stroke-width="1.5" fill="none"/>
<rect x="112.00" y="1335.20" width="31.50" height="53.80" fill="url(#hatch)" stroke="#1c1c1c" stroke-width="1.6"/>
<text transform="translate(128.45,1303.00) scale(1,1.0)" font-family="Liberation Serif" font-size="27.5" font-weight="normal" text-anchor="middle" fill="#141414" stroke="#141414" stroke-width="0.35" >a</text>
<path d="M162.25,1142V1123M153.80,1123H170.70" stroke="#2a2a2a" stroke-width="1.5" fill="none"/>
<rect x="146.00" y="1142.40" width="32.50" height="246.60" fill="#ffffff" stroke="#1c1c1c" stroke-width="1.6"/>
<text transform="translate(161.55,1091.50) scale(1,1.0)" font-family="Liberation Serif" font-size="27.5" font-weight="normal" text-anchor="middle" fill="#141414" stroke="#141414" stroke-width="0.35" >a</text>
<path d="M154.95,1100.30L156.05,1102.92L158.69,1102.65L157.16,1105.00L158.69,1107.35L156.05,1107.08L154.95,1109.70L153.85,1107.08L151.21,1107.35L152.74,1105.00L151.21,1102.65L153.85,1102.92ZM168.15,1100.30L169.25,1102.92L171.89,1102.65L170.36,1105.00L171.89,1107.35L169.25,1107.08L168.15,1109.70L167.05,1107.08L164.41,1107.35L165.94,1105.00L164.41,1102.65L167.05,1102.92Z" fill="#666666" stroke="#666666" stroke-width="0.6" stroke-linejoin="round"/>
<path d="M195.75,1296.5V1287M187.56,1287H203.94" stroke="#2a2a2a" stroke-width="1.5" fill="none"/>
<rect x="180.00" y="1296.90" width="31.50" height="92.10" fill="#a3a2a7" stroke="#1c1c1c" stroke-width="1.6"/>
<text transform="translate(197.65,1256.50) scale(1,1.0)" font-family="Liberation Serif" font-size="27.5" font-weight="normal" text-anchor="middle" fill="#141414" stroke="#141414" stroke-width="0.35" >a</text>
<path d="M191.05,1265.30L192.15,1267.92L194.79,1267.65L193.26,1270.00L194.79,1272.35L192.15,1272.08L191.05,1274.70L189.95,1272.08L187.31,1272.35L188.84,1270.00L187.31,1267.65L189.95,1267.92ZM204.25,1265.30L205.35,1267.92L207.99,1267.65L206.46,1270.00L207.99,1272.35L205.35,1272.08L204.25,1274.70L203.15,1272.08L200.51,1272.35L202.04,1270.00L200.51,1267.65L203.15,1267.92Z" fill="#666666" stroke="#666666" stroke-width="0.6" stroke-linejoin="round"/>
<path d="M229.75,1285.5V1270.5M221.56,1270.5H237.94" stroke="#2a2a2a" stroke-width="1.5" fill="none"/>
<rect x="214.00" y="1285.90" width="31.50" height="103.10" fill="#606060" stroke="#1c1c1c" stroke-width="1.6"/>
<text transform="translate(227.75,1236.50) scale(1,1.0)" font-family="Liberation Serif" font-size="27.5" font-weight="normal" text-anchor="middle" fill="#141414" stroke="#141414" stroke-width="0.35" >a</text>
<path d="M227.75,1245.30L228.85,1247.92L231.49,1247.65L229.96,1250.00L231.49,1252.35L228.85,1252.08L227.75,1254.70L226.65,1252.08L224.01,1252.35L225.54,1250.00L224.01,1247.65L226.65,1247.92Z" fill="#666666" stroke="#666666" stroke-width="0.6" stroke-linejoin="round"/>
<path d="M297.00,1351.5V1345.5M288.68,1345.5H305.32" stroke="#2a2a2a" stroke-width="1.5" fill="none"/>
<rect x="281.00" y="1351.90" width="32.00" height="37.10" fill="url(#hatch)" stroke="#1c1c1c" stroke-width="1.6"/>
<text transform="translate(296.00,1324.00) scale(1,1.0)" font-family="Liberation Serif" font-size="27.5" font-weight="normal" text-anchor="middle" fill="#141414" stroke="#141414" stroke-width="0.35" >a</text>
<path d="M331.00,1374V1370M322.42,1370H339.58" stroke="#2a2a2a" stroke-width="1.5" fill="none"/>
<rect x="314.50" y="1374.40" width="33.00" height="14.60" fill="#ffffff" stroke="#1c1c1c" stroke-width="1.6"/>
<text transform="translate(331.00,1336.50) scale(1,1.0)" font-family="Liberation Serif" font-size="27.5" font-weight="normal" text-anchor="middle" fill="#141414" stroke="#141414" stroke-width="0.35" >b</text>
<path d="M324.40,1345.30L325.50,1347.92L328.14,1347.65L326.61,1350.00L328.14,1352.35L325.50,1352.08L324.40,1354.70L323.30,1352.08L320.66,1352.35L322.19,1350.00L320.66,1347.65L323.30,1347.92ZM337.60,1345.30L338.70,1347.92L341.34,1347.65L339.81,1350.00L341.34,1352.35L338.70,1352.08L337.60,1354.70L336.50,1352.08L333.86,1352.35L335.39,1350.00L333.86,1347.65L336.50,1347.92Z" fill="#666666" stroke="#666666" stroke-width="0.6" stroke-linejoin="round"/>
<path d="M364.25,1353V1350.5M356.06,1350.5H372.44" stroke="#2a2a2a" stroke-width="1.5" fill="none"/>
<rect x="348.50" y="1353.40" width="31.50" height="35.60" fill="#a3a2a7" stroke="#1c1c1c" stroke-width="1.6"/>
<text transform="translate(364.25,1336.50) scale(1,1.0)" font-family="Liberation Serif" font-size="27.5" font-weight="normal" text-anchor="middle" fill="#141414" stroke="#141414" stroke-width="0.35" >b</text>
<path d="M398.75,1371.5V1367M390.56,1367H406.94" stroke="#2a2a2a" stroke-width="1.5" fill="none"/>
<rect x="383.00" y="1371.90" width="31.50" height="17.10" fill="#606060" stroke="#1c1c1c" stroke-width="1.6"/>
<text transform="translate(398.75,1348.00) scale(1,1.0)" font-family="Liberation Serif" font-size="27.5" font-weight="normal" text-anchor="middle" fill="#141414" stroke="#141414" stroke-width="0.35" >b</text>
<path d="M392.15,1355.30L393.25,1357.92L395.89,1357.65L394.36,1360.00L395.89,1362.35L393.25,1362.08L392.15,1364.70L391.05,1362.08L388.41,1362.35L389.94,1360.00L388.41,1357.65L391.05,1357.92ZM405.35,1355.30L406.45,1357.92L409.09,1357.65L407.56,1360.00L409.09,1362.35L406.45,1362.08L405.35,1364.70L404.25,1362.08L401.61,1362.35L403.14,1360.00L401.61,1357.65L404.25,1357.92Z" fill="#666666" stroke="#666666" stroke-width="0.6" stroke-linejoin="round"/>
<path d="M465.25,1377V1374.5M456.80,1374.5H473.70" stroke="#2a2a2a" stroke-width="1.5" fill="none"/>
<rect x="449.00" y="1377.40" width="32.50" height="11.60" fill="url(#hatch)" stroke="#1c1c1c" stroke-width="1.6"/>
<text transform="translate(465.25,1359.00) scale(1,1.0)" font-family="Liberation Serif" font-size="27.5" font-weight="normal" text-anchor="middle" fill="#141414" stroke="#141414" stroke-width="0.35" >b</text>
<path d="M499.00,1360V1352.5M490.68,1352.5H507.32" stroke="#2a2a2a" stroke-width="1.5" fill="none"/>
<rect x="483.00" y="1360.40" width="32.00" height="28.60" fill="#ffffff" stroke="#1c1c1c" stroke-width="1.6"/>
<text transform="translate(499.00,1348.00) scale(1,1.0)" font-family="Liberation Serif" font-size="27.5" font-weight="normal" text-anchor="middle" fill="#141414" stroke="#141414" stroke-width="0.35" >b</text>
<path d="M533.00,1378V1377M524.68,1377H541.32" stroke="#2a2a2a" stroke-width="1.5" fill="none"/>
<rect x="517.00" y="1378.40" width="32.00" height="10.60" fill="#a3a2a7" stroke="#1c1c1c" stroke-width="1.6"/>
<text transform="translate(533.00,1359.00) scale(1,1.0)" font-family="Liberation Serif" font-size="27.5" font-weight="normal" text-anchor="middle" fill="#141414" stroke="#141414" stroke-width="0.35" >c</text>
<path d="M567.25,1361.5V1356M559.06,1356H575.44" stroke="#2a2a2a" stroke-width="1.5" fill="none"/>
<rect x="551.50" y="1361.90" width="31.50" height="27.10" fill="#606060" stroke="#1c1c1c" stroke-width="1.6"/>
<text transform="translate(569.05,1325.00) scale(1,1.0)" font-family="Liberation Serif" font-size="27.5" font-weight="normal" text-anchor="middle" fill="#141414" stroke="#141414" stroke-width="0.35" >b</text>
<path d="M562.45,1333.80L563.55,1336.42L566.19,1336.15L564.66,1338.50L566.19,1340.85L563.55,1340.58L562.45,1343.20L561.35,1340.58L558.71,1340.85L560.24,1338.50L558.71,1336.15L561.35,1336.42ZM575.65,1333.80L576.75,1336.42L579.39,1336.15L577.86,1338.50L579.39,1340.85L576.75,1340.58L575.65,1343.20L574.55,1340.58L571.91,1340.85L573.44,1338.50L571.91,1336.15L574.55,1336.42Z" fill="#666666" stroke="#666666" stroke-width="0.6" stroke-linejoin="round"/>
<text transform="translate(177.50,1431.50) scale(1,1.1)" font-family="Liberation Serif" font-size="27.0" font-weight="normal" text-anchor="middle" fill="#141414" stroke="#141414" stroke-width="0.35" >2.0</text>
<text transform="translate(346.00,1431.50) scale(1,1.1)" font-family="Liberation Serif" font-size="27.0" font-weight="normal" text-anchor="middle" fill="#141414" stroke="#141414" stroke-width="0.35" >6.0</text>
<text transform="translate(516.00,1431.50) scale(1,1.1)" font-family="Liberation Serif" font-size="27.0" font-weight="normal" text-anchor="middle" fill="#141414" stroke="#141414" stroke-width="0.35" >10.0</text>
<text transform="translate(347.50,1470.00) scale(1,1.1)" font-family="Liberation Serif" font-size="27.0" font-weight="normal" text-anchor="middle" fill="#141414" stroke="#141414" stroke-width="0.35" >Time(h)</text>
<text transform="translate(59.4,1220.2) rotate(-90) scale(1,1.06)" font-family="Liberation Serif" font-size="27.7" text-anchor="middle" fill="#141414" stroke="#141414" stroke-width="0.3">Relative expression of <tspan font-style="italic">lrp</tspan> gene</text>
<rect x="450.7" y="1038.0" width="33.89999999999999" height="10.7" fill="url(#hatch)" stroke="#1c1c1c" stroke-width="1.8"/>
<text transform="translate(506.00,1050.20) scale(1,1.0)" font-family="Liberation Serif" font-size="24.0" font-weight="normal" text-anchor="start" fill="#141414" stroke="#141414" stroke-width="0.35" >Control</text>
<rect x="450.7" y="1077.7" width="33.89999999999999" height="10.7" fill="#ffffff" stroke="#1c1c1c" stroke-width="1.8"/>
<text transform="translate(506.00,1089.90) scale(1,1.0)" font-family="Liberation Serif" font-size="24.0" font-weight="normal" text-anchor="start" fill="#141414" stroke="#141414" stroke-width="0.35" >1 mM Ferric citrate</text>
<rect x="450.7" y="1122.3000000000002" width="33.89999999999999" height="9.799999999999908" fill="#a3a2a7" stroke="#1c1c1c" stroke-width="1.8"/>
<text transform="translate(506.00,1133.60) scale(1,1.0)" font-family="Liberation Serif" font-size="24.0" font-weight="normal" text-anchor="start" fill="#141414" stroke="#141414" stroke-width="0.35" >4 mM Ferric citrate</text>
<rect x="450.7" y="1166.1000000000001" width="33.89999999999999" height="9.799999999999908" fill="#606060" stroke="#1c1c1c" stroke-width="1.8"/>
<text transform="translate(506.00,1177.40) scale(1,1.0)" font-family="Liberation Serif" font-size="24.0" font-weight="normal" text-anchor="start" fill="#141414" stroke="#141414" stroke-width="0.35" >7 mM Ferric citrate</text>
<text transform="translate(715.50,1043.80) scale(1,1.0)" font-family="Liberation Sans" font-size="30" font-weight="bold" text-anchor="start" fill="#000" stroke="#000" stroke-width="0.35" >F</text>
<path d="M836,1071.6V1406.8H1340.5" stroke="#2a2a2a" stroke-width="1.6" fill="none"/>
<text transform="translate(829.80,1415.70) scale(1,1.1)" font-family="Liberation Serif" font-size="27.0" font-weight="normal" text-anchor="end" fill="#141414" stroke="#141414" stroke-width="0.35" >0.0</text>
<text transform="translate(829.80,1348.66) scale(1,1.1)" font-family="Liberation Serif" font-size="27.0" font-weight="normal" text-anchor="end" fill="#141414" stroke="#141414" stroke-width="0.35" >0.5</text>
<text transform="translate(829.80,1281.62) scale(1,1.1)" font-family="Liberation Serif" font-size="27.0" font-weight="normal" text-anchor="end" fill="#141414" stroke="#141414" stroke-width="0.35" >1.0</text>
<text transform="translate(829.80,1214.58) scale(1,1.1)" font-family="Liberation Serif" font-size="27.0" font-weight="normal" text-anchor="end" fill="#141414" stroke="#141414" stroke-width="0.35" >1.5</text>
<text transform="translate(829.80,1147.54) scale(1,1.1)" font-family="Liberation Serif" font-size="27.0" font-weight="normal" text-anchor="end" fill="#141414" stroke="#141414" stroke-width="0.35" >2.0</text>
<text transform="translate(829.80,1080.50) scale(1,1.1)" font-family="Liberation Serif" font-size="27.0" font-weight="normal" text-anchor="end" fill="#141414" stroke="#141414" stroke-width="0.35" >2.5</text>
<path d="M836,1406.80H849M836,1339.76H849M836,1272.72H849M836,1205.68H849M836,1138.64H849M836,1071.60H849" stroke="#2a2a2a" stroke-width="1.6" fill="none"/>
<path d="M868.50,1272.5V1256.5M860.18,1256.5H876.82" stroke="#2a2a2a" stroke-width="1.5" fill="none"/>
<rect x="852.50" y="1272.90" width="32.00" height="133.90" fill="url(#hatch)" stroke="#1c1c1c" stroke-width="1.6"/>
<text transform="translate(869.40,1247.50) scale(1,1.0)" font-family="Liberation Serif" font-size="27.5" font-weight="normal" text-anchor="middle" fill="#141414" stroke="#141414" stroke-width="0.35" >a</text>
<path d="M902.75,1129.5V1116.5M894.56,1116.5H910.94" stroke="#2a2a2a" stroke-width="1.5" fill="none"/>
<rect x="887.00" y="1129.90" width="31.50" height="276.90" fill="#ffffff" stroke="#1c1c1c" stroke-width="1.6"/>
<text transform="translate(902.05,1093.00) scale(1,1.0)" font-family="Liberation Serif" font-size="27.5" font-weight="normal" text-anchor="middle" fill="#141414" stroke="#141414" stroke-width="0.35" >a</text>
<path d="M888.85,1101.80L889.95,1104.42L892.59,1104.15L891.06,1106.50L892.59,1108.85L889.95,1108.58L888.85,1111.20L887.75,1108.58L885.11,1108.85L886.64,1106.50L885.11,1104.15L887.75,1104.42ZM902.05,1101.80L903.15,1104.42L905.79,1104.15L904.26,1106.50L905.79,1108.85L903.15,1108.58L902.05,1111.20L900.95,1108.58L898.31,1108.85L899.84,1106.50L898.31,1104.15L900.95,1104.42ZM915.25,1101.80L916.35,1104.42L918.99,1104.15L917.46,1106.50L918.99,1108.85L916.35,1108.58L915.25,1111.20L914.15,1108.58L911.51,1108.85L913.04,1106.50L911.51,1104.15L914.15,1104.42Z" fill="#666666" stroke="#666666" stroke-width="0.6" stroke-linejoin="round"/>
<path d="M936.25,1268.5V1252M928.06,1252H944.44" stroke="#2a2a2a" stroke-width="1.5" fill="none"/>
<rect x="920.50" y="1268.90" width="31.50" height="137.90" fill="#a3a2a7" stroke="#1c1c1c" stroke-width="1.6"/>
<text transform="translate(935.35,1247.50) scale(1,1.0)" font-family="Liberation Serif" font-size="27.5" font-weight="normal" text-anchor="middle" fill="#141414" stroke="#141414" stroke-width="0.35" >a</text>
<path d="M970.50,1270.5V1256M962.18,1256H978.82" stroke="#2a2a2a" stroke-width="1.5" fill="none"/>
<rect x="954.50" y="1270.90" width="32.00" height="135.90" fill="#606060" stroke="#1c1c1c" stroke-width="1.6"/>
<text transform="translate(968.50,1252.50) scale(1,1.0)" font-family="Liberation Serif" font-size="27.5" font-weight="normal" text-anchor="middle" fill="#141414" stroke="#141414" stroke-width="0.35" >a</text>
<path d="M1036.75,1312.5V1300M1028.30,1300H1045.20" stroke="#2a2a2a" stroke-width="1.5" fill="none"/>
<rect x="1020.50" y="1312.90" width="32.50" height="93.90" fill="url(#hatch)" stroke="#1c1c1c" stroke-width="1.6"/>
<text transform="translate(1036.75,1284.00) scale(1,1.0)" font-family="Liberation Serif" font-size="27.5" font-weight="normal" text-anchor="middle" fill="#141414" stroke="#141414" stroke-width="0.35" >a</text>
<path d="M1071.00,1354V1349M1062.94,1349H1079.06" stroke="#2a2a2a" stroke-width="1.5" fill="none"/>
<rect x="1055.50" y="1354.40" width="31.00" height="52.40" fill="#ffffff" stroke="#1c1c1c" stroke-width="1.6"/>
<text transform="translate(1071.00,1316.50) scale(1,1.0)" font-family="Liberation Serif" font-size="27.5" font-weight="normal" text-anchor="middle" fill="#141414" stroke="#141414" stroke-width="0.35" >b</text>
<path d="M1070.30,1325.30L1071.40,1327.92L1074.04,1327.65L1072.51,1330.00L1074.04,1332.35L1071.40,1332.08L1070.30,1334.70L1069.20,1332.08L1066.56,1332.35L1068.09,1330.00L1066.56,1327.65L1069.20,1327.92Z" fill="#666666" stroke="#666666" stroke-width="0.6" stroke-linejoin="round"/>
<path d="M1104.75,1336V1328.5M1096.56,1328.5H1112.94" stroke="#2a2a2a" stroke-width="1.5" fill="none"/>
<rect x="1089.00" y="1336.40" width="31.50" height="70.40" fill="#a3a2a7" stroke="#1c1c1c" stroke-width="1.6"/>
<text transform="translate(1104.75,1320.00) scale(1,1.0)" font-family="Liberation Serif" font-size="27.5" font-weight="normal" text-anchor="middle" fill="#141414" stroke="#141414" stroke-width="0.35" >b</text>
<path d="M1139.25,1369V1364M1131.06,1364H1147.44" stroke="#2a2a2a" stroke-width="1.5" fill="none"/>
<rect x="1123.50" y="1369.40" width="31.50" height="37.40" fill="#606060" stroke="#1c1c1c" stroke-width="1.6"/>
<text transform="translate(1139.25,1341.50) scale(1,1.0)" font-family="Liberation Serif" font-size="27.5" font-weight="normal" text-anchor="middle" fill="#141414" stroke="#141414" stroke-width="0.35" >b</text>
<path d="M1139.25,1349.30L1140.35,1351.92L1142.99,1351.65L1141.46,1354.00L1142.99,1356.35L1140.35,1356.08L1139.25,1358.70L1138.15,1356.08L1135.51,1356.35L1137.04,1354.00L1135.51,1351.65L1138.15,1351.92Z" fill="#666666" stroke="#666666" stroke-width="0.6" stroke-linejoin="round"/>
<path d="M1205.00,1374V1370M1196.68,1370H1213.32" stroke="#2a2a2a" stroke-width="1.5" fill="none"/>
<rect x="1189.00" y="1374.40" width="32.00" height="32.40" fill="url(#hatch)" stroke="#1c1c1c" stroke-width="1.6"/>
<text transform="translate(1205.00,1364.00) scale(1,1.0)" font-family="Liberation Serif" font-size="27.5" font-weight="normal" text-anchor="middle" fill="#141414" stroke="#141414" stroke-width="0.35" >b</text>
<path d="M1239.00,1365.5V1358M1230.68,1358H1247.32" stroke="#2a2a2a" stroke-width="1.5" fill="none"/>
<rect x="1223.00" y="1365.90" width="32.00" height="40.90" fill="#ffffff" stroke="#1c1c1c" stroke-width="1.6"/>
<text transform="translate(1239.00,1353.00) scale(1,1.0)" font-family="Liberation Serif" font-size="27.5" font-weight="normal" text-anchor="middle" fill="#141414" stroke="#141414" stroke-width="0.35" >b</text>
<path d="M1273.00,1372.5V1367M1264.94,1367H1281.06" stroke="#2a2a2a" stroke-width="1.5" fill="none"/>
<rect x="1257.50" y="1372.90" width="31.00" height="33.90" fill="#a3a2a7" stroke="#1c1c1c" stroke-width="1.6"/>
<text transform="translate(1273.00,1353.00) scale(1,1.0)" font-family="Liberation Serif" font-size="27.5" font-weight="normal" text-anchor="middle" fill="#141414" stroke="#141414" stroke-width="0.35" >c</text>
<path d="M1307.50,1353.5V1348.5M1299.18,1348.5H1315.82" stroke="#2a2a2a" stroke-width="1.5" fill="none"/>
<rect x="1291.50" y="1353.90" width="32.00" height="52.90" fill="#606060" stroke="#1c1c1c" stroke-width="1.6"/>
<text transform="translate(1307.50,1320.00) scale(1,1.0)" font-family="Liberation Serif" font-size="27.5" font-weight="normal" text-anchor="middle" fill="#141414" stroke="#141414" stroke-width="0.35" >b</text>
<path d="M1294.30,1329.30L1295.40,1331.92L1298.04,1331.65L1296.51,1334.00L1298.04,1336.35L1295.40,1336.08L1294.30,1338.70L1293.20,1336.08L1290.56,1336.35L1292.09,1334.00L1290.56,1331.65L1293.20,1331.92ZM1307.50,1329.30L1308.60,1331.92L1311.24,1331.65L1309.71,1334.00L1311.24,1336.35L1308.60,1336.08L1307.50,1338.70L1306.40,1336.08L1303.76,1336.35L1305.29,1334.00L1303.76,1331.65L1306.40,1331.92ZM1320.70,1329.30L1321.80,1331.92L1324.44,1331.65L1322.91,1334.00L1324.44,1336.35L1321.80,1336.08L1320.70,1338.70L1319.60,1336.08L1316.96,1336.35L1318.49,1334.00L1316.96,1331.65L1319.60,1331.92Z" fill="#666666" stroke="#666666" stroke-width="0.6" stroke-linejoin="round"/>
<text transform="translate(918.00,1449.00) scale(1,1.1)" font-family="Liberation Serif" font-size="27.0" font-weight="normal" text-anchor="middle" fill="#141414" stroke="#141414" stroke-width="0.35" >2.0</text>
<text transform="translate(1087.00,1449.00) scale(1,1.1)" font-family="Liberation Serif" font-size="27.0" font-weight="normal" text-anchor="middle" fill="#141414" stroke="#141414" stroke-width="0.35" >6.0</text>
<text transform="translate(1256.50,1449.00) scale(1,1.1)" font-family="Liberation Serif" font-size="27.0" font-weight="normal" text-anchor="middle" fill="#141414" stroke="#141414" stroke-width="0.35" >10.0</text>
<text transform="translate(1088.50,1488.00) scale(1,1.1)" font-family="Liberation Serif" font-size="27.0" font-weight="normal" text-anchor="middle" fill="#141414" stroke="#141414" stroke-width="0.35" >Time(h)</text>
<text transform="translate(780.7,1237) rotate(-90) scale(1,1.06)" font-family="Liberation Serif" font-size="27.7" text-anchor="middle" fill="#141414" stroke="#141414" stroke-width="0.3">Relative expression of <tspan font-style="italic">lrp</tspan> gene</text>
<rect x="1191.1000000000001" y="1037.8000000000002" width="34.099999999999866" height="10.2" fill="url(#hatch)" stroke="#1c1c1c" stroke-width="1.8"/>
<text transform="translate(1246.50,1049.50) scale(1,1.0)" font-family="Liberation Serif" font-size="24.0" font-weight="normal" text-anchor="start" fill="#141414" stroke="#141414" stroke-width="0.35" >Control</text>
<rect x="1191.1000000000001" y="1079.5" width="34.099999999999866" height="11.400000000000045" fill="#ffffff" stroke="#1c1c1c" stroke-width="1.8"/>
<text transform="translate(1246.50,1092.40) scale(1,1.0)" font-family="Liberation Serif" font-size="24.0" font-weight="normal" text-anchor="start" fill="#141414" stroke="#141414" stroke-width="0.35" >0.1 mg/L NaNO<tspan dy="4.8" font-size="15">3</tspan></text>
<rect x="1191.1000000000001" y="1124.0" width="34.099999999999866" height="10.500000000000181" fill="#a3a2a7" stroke="#1c1c1c" stroke-width="1.8"/>
<text transform="translate(1246.50,1136.00) scale(1,1.0)" font-family="Liberation Serif" font-size="24.0" font-weight="normal" text-anchor="start" fill="#141414" stroke="#141414" stroke-width="0.35" >1.0 mg/L NaNO<tspan dy="4.8" font-size="15">3</tspan></text>
<rect x="1191.1000000000001" y="1167.6000000000001" width="34.099999999999866" height="9.799999999999908" fill="#606060" stroke="#1c1c1c" stroke-width="1.8"/>
<text transform="translate(1246.50,1178.90) scale(1,1.0)" font-family="Liberation Serif" font-size="24.0" font-weight="normal" text-anchor="start" fill="#141414" stroke="#141414" stroke-width="0.35" >5.0 mg/L NaNO<tspan dy="4.8" font-size="15">3</tspan></text>
<text transform="translate(0.00,1535.00) scale(1,1.0)" font-family="Liberation Sans" font-size="30" font-weight="bold" text-anchor="start" fill="#000" stroke="#000" stroke-width="0.35" >G</text>
<path d="M116.8,1568.6V1904.6H621.5" stroke="#2a2a2a" stroke-width="1.6" fill="none"/>
<text transform="translate(110.60,1913.50) scale(1,1.1)" font-family="Liberation Serif" font-size="27.0" font-weight="normal" text-anchor="end" fill="#141414" stroke="#141414" stroke-width="0.35" >0.0</text>
<text transform="translate(110.60,1829.50) scale(1,1.1)" font-family="Liberation Serif" font-size="27.0" font-weight="normal" text-anchor="end" fill="#141414" stroke="#141414" stroke-width="0.35" >0.5</text>
<text transform="translate(110.60,1745.50) scale(1,1.1)" font-family="Liberation Serif" font-size="27.0" font-weight="normal" text-anchor="end" fill="#141414" stroke="#141414" stroke-width="0.35" >1.0</text>
<text transform="translate(110.60,1661.50) scale(1,1.1)" font-family="Liberation Serif" font-size="27.0" font-weight="normal" text-anchor="end" fill="#141414" stroke="#141414" stroke-width="0.35" >1.5</text>
<text transform="translate(110.60,1577.50) scale(1,1.1)" font-family="Liberation Serif" font-size="27.0" font-weight="normal" text-anchor="end" fill="#141414" stroke="#141414" stroke-width="0.35" >2.0</text>
<path d="M116.8,1904.60H129.8M116.8,1820.60H129.8M116.8,1736.60H129.8M116.8,1652.60H129.8M116.8,1568.60H129.8" stroke="#2a2a2a" stroke-width="1.6" fill="none"/>
<path d="M148.50,1737V1718M140.44,1718H156.56" stroke="#2a2a2a" stroke-width="1.5" fill="none"/>
<rect x="133.00" y="1737.40" width="31.00" height="167.20" fill="url(#hatch)" stroke="#1c1c1c" stroke-width="1.6"/>
<text transform="translate(148.50,1707.00) scale(1,1.0)" font-family="Liberation Serif" font-size="27.5" font-weight="normal" text-anchor="middle" fill="#141414" stroke="#141414" stroke-width="0.35" >a</text>
<path d="M182.50,1646.5V1623.5M174.18,1623.5H190.82" stroke="#2a2a2a" stroke-width="1.5" fill="none"/>
<rect x="166.50" y="1646.90" width="32.00" height="257.70" fill="#ffffff" stroke="#1c1c1c" stroke-width="1.6"/>
<text transform="translate(182.50,1591.00) scale(1,1.0)" font-family="Liberation Serif" font-size="27.5" font-weight="normal" text-anchor="middle" fill="#141414" stroke="#141414" stroke-width="0.35" >a</text>
<path d="M182.50,1599.80L183.60,1602.42L186.24,1602.15L184.71,1604.50L186.24,1606.85L183.60,1606.58L182.50,1609.20L181.40,1606.58L178.76,1606.85L180.29,1604.50L178.76,1602.15L181.40,1602.42Z" fill="#666666" stroke="#666666" stroke-width="0.6" stroke-linejoin="round"/>
<path d="M217.00,1819V1811M208.94,1811H225.06" stroke="#2a2a2a" stroke-width="1.5" fill="none"/>
<rect x="201.50" y="1819.40" width="31.00" height="85.20" fill="#a3a2a7" stroke="#1c1c1c" stroke-width="1.6"/>
<text transform="translate(216.00,1782.00) scale(1,1.0)" font-family="Liberation Serif" font-size="27.5" font-weight="normal" text-anchor="middle" fill="#141414" stroke="#141414" stroke-width="0.35" >a</text>
<path d="M216.00,1789.80L217.10,1792.42L219.74,1792.15L218.21,1794.50L219.74,1796.85L217.10,1796.58L216.00,1799.20L214.90,1796.58L212.26,1796.85L213.79,1794.50L212.26,1792.15L214.90,1792.42Z" fill="#666666" stroke="#666666" stroke-width="0.6" stroke-linejoin="round"/>
<path d="M251.00,1866V1862M242.68,1862H259.32" stroke="#2a2a2a" stroke-width="1.5" fill="none"/>
<rect x="235.00" y="1866.40" width="32.00" height="38.20" fill="#606060" stroke="#1c1c1c" stroke-width="1.6"/>
<text transform="translate(254.40,1828.50) scale(1,1.0)" font-family="Liberation Serif" font-size="27.5" font-weight="normal" text-anchor="middle" fill="#141414" stroke="#141414" stroke-width="0.35" >a</text>
<path d="M241.20,1836.30L242.30,1838.92L244.94,1838.65L243.41,1841.00L244.94,1843.35L242.30,1843.08L241.20,1845.70L240.10,1843.08L237.46,1843.35L238.99,1841.00L237.46,1838.65L240.10,1838.92ZM254.40,1836.30L255.50,1838.92L258.14,1838.65L256.61,1841.00L258.14,1843.35L255.50,1843.08L254.40,1845.70L253.30,1843.08L250.66,1843.35L252.19,1841.00L250.66,1838.65L253.30,1838.92ZM267.60,1836.30L268.70,1838.92L271.34,1838.65L269.81,1841.00L271.34,1843.35L268.70,1843.08L267.60,1845.70L266.50,1843.08L263.86,1843.35L265.39,1841.00L263.86,1838.65L266.50,1838.92Z" fill="#666666" stroke="#666666" stroke-width="0.6" stroke-linejoin="round"/>
<path d="M317.50,1787.5V1771M309.18,1771H325.82" stroke="#2a2a2a" stroke-width="1.5" fill="none"/>
<rect x="301.50" y="1787.90" width="32.00" height="116.70" fill="url(#hatch)" stroke="#1c1c1c" stroke-width="1.6"/>
<text transform="translate(317.50,1768.50) scale(1,1.0)" font-family="Liberation Serif" font-size="27.5" font-weight="normal" text-anchor="middle" fill="#141414" stroke="#141414" stroke-width="0.35" >a</text>
<path d="M351.25,1834.5V1828.5M342.80,1828.5H359.70" stroke="#2a2a2a" stroke-width="1.5" fill="none"/>
<rect x="335.00" y="1834.90" width="32.50" height="69.70" fill="#ffffff" stroke="#1c1c1c" stroke-width="1.6"/>
<text transform="translate(351.25,1794.50) scale(1,1.0)" font-family="Liberation Serif" font-size="27.5" font-weight="normal" text-anchor="middle" fill="#141414" stroke="#141414" stroke-width="0.35" >b</text>
<path d="M351.25,1802.30L352.35,1804.92L354.99,1804.65L353.46,1807.00L354.99,1809.35L352.35,1809.08L351.25,1811.70L350.15,1809.08L347.51,1809.35L349.04,1807.00L347.51,1804.65L350.15,1804.92Z" fill="#666666" stroke="#666666" stroke-width="0.6" stroke-linejoin="round"/>
<path d="M385.50,1860V1853M377.44,1853H393.56" stroke="#2a2a2a" stroke-width="1.5" fill="none"/>
<rect x="370.00" y="1860.40" width="31.00" height="44.20" fill="#a3a2a7" stroke="#1c1c1c" stroke-width="1.6"/>
<text transform="translate(385.50,1828.50) scale(1,1.0)" font-family="Liberation Serif" font-size="27.5" font-weight="normal" text-anchor="middle" fill="#141414" stroke="#141414" stroke-width="0.35" >b</text>
<path d="M377.90,1836.30L379.00,1838.92L381.64,1838.65L380.11,1841.00L381.64,1843.35L379.00,1843.08L377.90,1845.70L376.80,1843.08L374.16,1843.35L375.69,1841.00L374.16,1838.65L376.80,1838.92ZM391.10,1836.30L392.20,1838.92L394.84,1838.65L393.31,1841.00L394.84,1843.35L392.20,1843.08L391.10,1845.70L390.00,1843.08L387.36,1843.35L388.89,1841.00L387.36,1838.65L390.00,1838.92Z" fill="#666666" stroke="#666666" stroke-width="0.6" stroke-linejoin="round"/>
<path d="M419.50,1860V1853M411.44,1853H427.56" stroke="#2a2a2a" stroke-width="1.5" fill="none"/>
<rect x="404.00" y="1860.40" width="31.00" height="44.20" fill="#606060" stroke="#1c1c1c" stroke-width="1.6"/>
<text transform="translate(419.50,1828.50) scale(1,1.0)" font-family="Liberation Serif" font-size="27.5" font-weight="normal" text-anchor="middle" fill="#141414" stroke="#141414" stroke-width="0.35" >a</text>
<path d="M412.90,1836.30L414.00,1838.92L416.64,1838.65L415.11,1841.00L416.64,1843.35L414.00,1843.08L412.90,1845.70L411.80,1843.08L409.16,1843.35L410.69,1841.00L409.16,1838.65L411.80,1838.92ZM426.10,1836.30L427.20,1838.92L429.84,1838.65L428.31,1841.00L429.84,1843.35L427.20,1843.08L426.10,1845.70L425.00,1843.08L422.36,1843.35L423.89,1841.00L422.36,1838.65L425.00,1838.92Z" fill="#666666" stroke="#666666" stroke-width="0.6" stroke-linejoin="round"/>
<path d="M486.00,1862.5V1859M477.68,1859H494.32" stroke="#2a2a2a" stroke-width="1.5" fill="none"/>
<rect x="470.00" y="1862.90" width="32.00" height="41.70" fill="url(#hatch)" stroke="#1c1c1c" stroke-width="1.6"/>
<text transform="translate(486.00,1851.00) scale(1,1.0)" font-family="Liberation Serif" font-size="27.5" font-weight="normal" text-anchor="middle" fill="#141414" stroke="#141414" stroke-width="0.35" >b</text>
<path d="M520.00,1815V1806.5M511.68,1806.5H528.32" stroke="#2a2a2a" stroke-width="1.5" fill="none"/>
<rect x="504.00" y="1815.40" width="32.00" height="89.20" fill="#ffffff" stroke="#1c1c1c" stroke-width="1.6"/>
<text transform="translate(520.00,1788.50) scale(1,1.0)" font-family="Liberation Serif" font-size="27.5" font-weight="normal" text-anchor="middle" fill="#141414" stroke="#141414" stroke-width="0.35" >b</text>
<path d="M506.80,1794.80L507.90,1797.42L510.54,1797.15L509.01,1799.50L510.54,1801.85L507.90,1801.58L506.80,1804.20L505.70,1801.58L503.06,1801.85L504.59,1799.50L503.06,1797.15L505.70,1797.42ZM520.00,1794.80L521.10,1797.42L523.74,1797.15L522.21,1799.50L523.74,1801.85L521.10,1801.58L520.00,1804.20L518.90,1801.58L516.26,1801.85L517.79,1799.50L516.26,1797.15L518.90,1797.42ZM533.20,1794.80L534.30,1797.42L536.94,1797.15L535.41,1799.50L536.94,1801.85L534.30,1801.58L533.20,1804.20L532.10,1801.58L529.46,1801.85L530.99,1799.50L529.46,1797.15L532.10,1797.42Z" fill="#666666" stroke="#666666" stroke-width="0.6" stroke-linejoin="round"/>
<path d="M554.25,1857.5V1855.5M546.06,1855.5H562.44" stroke="#2a2a2a" stroke-width="1.5" fill="none"/>
<rect x="538.50" y="1857.90" width="31.50" height="46.70" fill="#a3a2a7" stroke="#1c1c1c" stroke-width="1.6"/>
<text transform="translate(554.25,1851.00) scale(1,1.0)" font-family="Liberation Serif" font-size="27.5" font-weight="normal" text-anchor="middle" fill="#141414" stroke="#141414" stroke-width="0.35" >b</text>
<path d="M588.25,1873.5V1865M580.06,1865H596.44" stroke="#2a2a2a" stroke-width="1.5" fill="none"/>
<rect x="572.50" y="1873.90" width="31.50" height="30.70" fill="#606060" stroke="#1c1c1c" stroke-width="1.6"/>
<text transform="translate(588.25,1861.00) scale(1,1.0)" font-family="Liberation Serif" font-size="27.5" font-weight="normal" text-anchor="middle" fill="#141414" stroke="#141414" stroke-width="0.35" >a</text>
<text transform="translate(198.50,1947.00) scale(1,1.1)" font-family="Liberation Serif" font-size="27.0" font-weight="normal" text-anchor="middle" fill="#141414" stroke="#141414" stroke-width="0.35" >2.0</text>
<text transform="translate(367.50,1947.00) scale(1,1.1)" font-family="Liberation Serif" font-size="27.0" font-weight="normal" text-anchor="middle" fill="#141414" stroke="#141414" stroke-width="0.35" >6.0</text>
<text transform="translate(536.00,1947.00) scale(1,1.1)" font-family="Liberation Serif" font-size="27.0" font-weight="normal" text-anchor="middle" fill="#141414" stroke="#141414" stroke-width="0.35" >10.0</text>
<text transform="translate(368.50,1984.50) scale(1,1.1)" font-family="Liberation Serif" font-size="27.0" font-weight="normal" text-anchor="middle" fill="#141414" stroke="#141414" stroke-width="0.35" >Time(h)</text>
<text transform="translate(61.2,1735.2) rotate(-90) scale(1,1.06)" font-family="Liberation Serif" font-size="27.7" text-anchor="middle" fill="#141414" stroke="#141414" stroke-width="0.3">Relative expression of <tspan font-style="italic">lrp</tspan> gene</text>
<rect x="472.0" y="1536.6000000000001" width="33.49999999999996" height="10.400000000000045" fill="url(#hatch)" stroke="#1c1c1c" stroke-width="1.8"/>
<text transform="translate(527.00,1548.50) scale(1,1.0)" font-family="Liberation Serif" font-size="24.0" font-weight="normal" text-anchor="start" fill="#141414" stroke="#141414" stroke-width="0.35" >Control</text>
<rect x="472.0" y="1578.0" width="33.49999999999996" height="10.400000000000045" fill="#ffffff" stroke="#1c1c1c" stroke-width="1.8"/>
<text transform="translate(527.00,1589.90) scale(1,1.0)" font-family="Liberation Serif" font-size="24.0" font-weight="normal" text-anchor="start" fill="#141414" stroke="#141414" stroke-width="0.35" >0.1 mg/L KH<tspan dy="4.8" font-size="15">2</tspan><tspan dy="-4.8">PO</tspan><tspan dy="4.8" font-size="15">4</tspan></text>
<rect x="472.0" y="1622.0" width="33.49999999999996" height="10.10000000000009" fill="#a3a2a7" stroke="#1c1c1c" stroke-width="1.8"/>
<text transform="translate(527.00,1633.60) scale(1,1.0)" font-family="Liberation Serif" font-size="24.0" font-weight="normal" text-anchor="start" fill="#141414" stroke="#141414" stroke-width="0.35" >0.5 mg/L KH<tspan dy="4.8" font-size="15">2</tspan><tspan dy="-4.8">PO</tspan><tspan dy="4.8" font-size="15">4</tspan></text>
<rect x="472.0" y="1666.1000000000001" width="33.49999999999996" height="9.799999999999908" fill="#606060" stroke="#1c1c1c" stroke-width="1.8"/>
<text transform="translate(527.00,1677.40) scale(1,1.0)" font-family="Liberation Serif" font-size="24.0" font-weight="normal" text-anchor="start" fill="#141414" stroke="#141414" stroke-width="0.35" >2.0 mg/L KH<tspan dy="4.8" font-size="15">2</tspan><tspan dy="-4.8">PO</tspan><tspan dy="4.8" font-size="15">4</tspan></text>
</svg></body></html>
